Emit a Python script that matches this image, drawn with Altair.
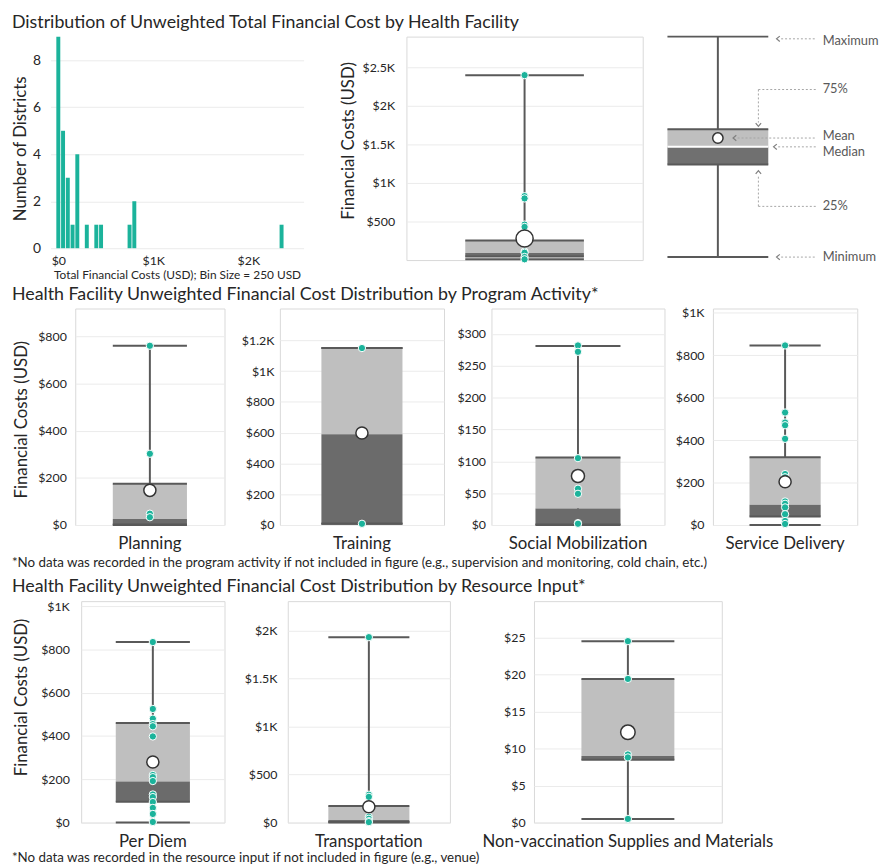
import altair as alt
import pandas as pd

# ---------------- texts ----------------
TITLES = [
    "Distribution of Unweighted Total Financial Cost by Health Facility",
    "Health Facility Unweighted Financial Cost Distribution by Program Activity*",
    "Health Facility Unweighted Financial Cost Distribution by Resource Input*",
]
FOOTNOTES = [
    "*No data was recorded in the program activity if not included in figure (e.g., supervision and monitoring, cold chain, etc.)",
    "*No data was recorded in the resource input if not included in figure (e.g., venue)",
]
Y_TITLE = "Financial Costs (USD)"
HIST_Y_TITLE = "Number of Districts"
HIST_X_TITLE = "Total Financial Costs (USD); Bin Size = 250 USD"

# ---------------- histogram ----------------
HIST_COST = [0, 50, 100, 150, 200, 300, 400, 450, 750, 800, 2350]
HIST_COUNT = [9, 5, 3, 1, 4, 1, 1, 1, 1, 2, 1]
HIST_X_TICKS = [0, 1000, 2000]
HIST_Y_TICKS = [0, 2, 4, 6, 8]

# ---------------- total cost box ----------------
TOTAL_CAT = "Total"
TOTAL_STATS = {"min": 10, "q1": 45, "med": 90, "q3": 255, "max": 2400, "mean": 280}
TOTAL_POINTS = [2400, 830, 800, 460, 430, 110, 95, 40, 10]
TOTAL_TICKS = [500, 1000, 1500, 2000, 2500]

# ---------------- program activity ----------------
PROG_CATS = ["Planning", "Training", "Social Mobilization", "Service Delivery"]
PROG_MIN = [0, 8, 0, 0]
PROG_Q1 = [2, 8, 1, 40]
PROG_MED = [25, 590, 26, 96]
PROG_Q3 = [175, 1150, 106, 319]
PROG_MAX = [760, 1150, 281, 846]
PROG_MEAN = [147, 598, 77, 204]
PROG_POINTS = [
    [760, 302, 48, 33],
    [1150, 8],
    [282, 272, 105, 57, 49, 3, 2],
    [846, 530, 483, 470, 406, 240, 225, 111, 100, 83, 51, 19, 5],
]
PROG_TICKS = [
    [0, 200, 400, 600, 800],
    [0, 200, 400, 600, 800, 1000, 1200],
    [0, 50, 100, 150, 200, 250, 300],
    [0, 200, 400, 600, 800, 1000],
]

# ---------------- resource input ----------------
RES_CATS = ["Per Diem", "Transportation", "Non-vaccination Supplies and Materials"]
RES_MIN = [0, 2, 0.5]
RES_Q1 = [96, 7, 8.5]
RES_MED = [190, 28, 9.0]
RES_Q3 = [460, 172, 19.4]
RES_MAX = [834, 1930, 24.5]
RES_MEAN = [280, 165, 12.2]
RES_POINTS = [
    [834, 525, 480, 455, 445, 398, 220, 210, 192, 130, 118, 95, 68, 40, 3],
    [1930, 290, 268, 60, 40, 15, 5],
    [24.5, 19.4, 9.2, 8.8, 0.5],
]
RES_TICKS = [
    [0, 200, 400, 600, 800, 1000],
    [0, 500, 1000, 1500, 2000],
    [0, 5, 10, 15, 20, 25],
]

# ---------------- schematic legend ----------------
LEG_LABELS = ["Maximum", "75%", "Mean", "Median", "25%", "Minimum"]
LEG_LABEL_Y = [98, 76, 55, 47.5, 23, 0]
LEG_STATS = {"min": 0, "q1": 42, "med": 50, "mean": 54, "q3": 58, "max": 100}

# ---------------- style ----------------
FONT = "Lato"
TEAL = "#1bb39b"
LIGHT = "#bfbfbf"
DARK = "#6b6b6b"
LINE = "#595959"
GRID = "#ebebeb"
FRAME = "#d9d9d9"
TXT = "#262626"
TITLE_SIZE = 18
NOTE_SIZE = 13.5
CAT_SIZE = 17
YT_SIZE = 17
LABEL_EXPR = ("datum.value >= 1000 ? '$' + format(datum.value / 1000, '~g') + 'K' "
              ": '$' + format(datum.value, '~g')")


def no_frame():
    return alt.ViewBackground(stroke="transparent")


def spacer(w, h):
    return (alt.Chart(pd.DataFrame({"s": [0]}))
            .mark_point(opacity=0)
            .encode(x=alt.value(0), y=alt.value(0))
            .properties(width=w, height=h, view=no_frame()))


def text_layer(text, y, size, color=TXT):
    return (alt.Chart(pd.DataFrame({"t": [text]}))
            .mark_text(align="left", baseline="middle", font=FONT, fontSize=size, color=color)
            .encode(x=alt.value(0), y=alt.value(y), text="t:N"))


def text_block(layers, h, w=800):
    return alt.layer(*layers).properties(width=w, height=h, view=no_frame())


def box_panel(cat, stats, points, width, height, ymax, ticks, boxw, mean_size,
              show_label=True, label_pad=10, ylab_pad=9, ylab_size=12.5,
              ytitle=None, title_x=0, title_y=0):
    sdf = pd.DataFrame([dict(cat=cat, **stats)])
    pdf = pd.DataFrame({"cat": [cat] * len(points), "v": points})
    xs = alt.Scale(type="band", domain=[cat], paddingInner=0, paddingOuter=0)
    ys = alt.Scale(domain=[0, ymax], nice=False, zero=False)
    if show_label:
        xaxis = alt.Axis(title=None, ticks=False, domain=False, grid=False, labelAngle=0,
                         labelFont=FONT, labelFontSize=CAT_SIZE, labelColor=TXT,
                         labelPadding=label_pad, labelLimit=500)
    else:
        xaxis = None
    ykw = dict(values=ticks, labelExpr=LABEL_EXPR, grid=True, gridColor=GRID,
               domain=False, ticks=False, tickSize=0, labelPadding=ylab_pad,
               labelFont=FONT, labelFontSize=ylab_size, labelColor=TXT)
    if ytitle:
        yaxis = alt.Axis(title=ytitle, titleFont=FONT, titleFontSize=YT_SIZE,
                         titleFontWeight="normal", titleColor=TXT, titleAngle=270,
                         titleAlign="center", titleBaseline="middle",
                         titleX=title_x, titleY=title_y, **ykw)
    else:
        yaxis = alt.Axis(title=None, **ykw)

    # identical axis definitions on every layer so the merged axis is kept
    def X():
        return alt.X("cat:N", scale=xs, axis=xaxis)

    def Y(f):
        return alt.Y(f + ":Q", scale=ys, axis=yaxis)

    base = alt.Chart(sdf)
    layers = [
        base.mark_rule(color=LINE, strokeWidth=2).encode(x=X(), y=Y("min"), y2=alt.Y2("max")),
        base.mark_bar(size=boxw, color=LIGHT).encode(x=X(), y=Y("med"), y2=alt.Y2("q3")),
        base.mark_bar(size=boxw, color=DARK).encode(x=X(), y=Y("q1"), y2=alt.Y2("med")),
    ]
    for f in ["q3", "q1", "max", "min"]:
        layers.append(base.mark_tick(size=boxw, thickness=2, color=LINE, opacity=1)
                      .encode(x=X(), y=Y(f)))
    layers.append(alt.Chart(pdf).mark_circle(size=55, color=TEAL, opacity=1,
                                             stroke="white", strokeWidth=1)
                  .encode(x=X(), y=Y("v")))
    layers.append(base.mark_point(shape="circle", filled=True, fill="white", stroke="#333333",
                                  strokeWidth=1.5, size=mean_size, opacity=1)
                  .encode(x=X(), y=Y("mean")))
    return alt.layer(*layers).properties(width=width, height=height)


# ---------------- row 1 ----------------
R1H = 226
hist_df = pd.DataFrame({"cost": HIST_COST, "n": HIST_COUNT})
hist = alt.Chart(hist_df).mark_bar(size=4, color=TEAL, orient="vertical").encode(
    x=alt.X("cost:Q", scale=alt.Scale(domain=[-30, 2530], nice=False, zero=False),
            axis=alt.Axis(values=HIST_X_TICKS, labelExpr=LABEL_EXPR, grid=False, domain=False,
                          ticks=False, tickSize=0, offset=-12, labelPadding=7, labelFont=FONT,
                          labelFontSize=12.5, labelColor=TXT, title=HIST_X_TITLE,
                          titleFont=FONT, titleFontSize=12, titleFontWeight="normal",
                          titleColor=TXT, titlePadding=2)),
    y=alt.Y("n:Q", scale=alt.Scale(domain=[-0.505, 9.01], nice=False, zero=False),
            axis=alt.Axis(values=HIST_Y_TICKS, grid=True, gridColor=GRID, domain=False,
                          ticks=False, tickSize=0, labelPadding=10, labelFont=FONT,
                          labelFontSize=14, labelColor=TXT, title=HIST_Y_TITLE,
                          titleFont=FONT, titleFontSize=YT_SIZE, titleFontWeight="normal",
                          titleColor=TXT, titleAngle=270, titleAlign="center",
                          titleBaseline="middle", titleX=-30, titleY=113)),
).properties(width=256, height=R1H, view=no_frame())

total_box = box_panel(TOTAL_CAT, TOTAL_STATS, TOTAL_POINTS, 239, R1H, 2900, TOTAL_TICKS,
                      120, 300, show_label=False, ylab_pad=12, ylab_size=12.5,
                      ytitle=Y_TITLE, title_x=-59, title_y=105)

# schematic legend
lxs = alt.Scale(domain=[0, 226], nice=False, zero=False)
lys = alt.Scale(domain=[-1.35, 100], nice=False, zero=False)
BX0, BX1, BXC = 25, 127, 76
ls = LEG_STATS


def LX(f):
    return alt.X(f + ":Q", scale=lxs, axis=None)


def LY(f):
    return alt.Y(f + ":Q", scale=lys, axis=None)


rect_df = pd.DataFrame({"x0": [BX0, BX0], "x1": [BX1, BX1],
                        "y0": [ls["med"], ls["q1"]], "y1": [ls["q3"], ls["med"]],
                        "c": [LIGHT, "#707070"]})
hline_df = pd.DataFrame({"x0": [BX0] * 4, "x1": [BX1] * 4,
                         "y": [ls["max"], ls["q3"], ls["q1"], ls["min"]]})
conn_df = pd.DataFrame({"x0": [140, 117, 96, 137, 117, 140], "x1": [176] * 6,
                        "y": [99, 76, 54, 50, 23, 0]})
vconn_df = pd.DataFrame({"x": [117, 117], "y0": [76, 23], "y1": [61, 37]})
chev_l = pd.DataFrame({"x": [137, 137, 93, 134], "y": [99, 0, 54, 50]})
lab_df = pd.DataFrame({"lab": LEG_LABELS, "y": LEG_LABEL_Y})

legend = alt.layer(
    alt.Chart(pd.DataFrame({"x": [BXC], "y0": [ls["min"]], "y1": [ls["max"]]}))
    .mark_rule(color=LINE, strokeWidth=2).encode(x=LX("x"), y=LY("y0"), y2=alt.Y2("y1")),
    alt.Chart(rect_df).mark_rect().encode(x=LX("x0"), x2=alt.X2("x1"), y=LY("y0"),
                                          y2=alt.Y2("y1"),
                                          color=alt.Color("c:N", scale=None)),
    alt.Chart(hline_df).mark_rule(color=LINE, strokeWidth=2)
    .encode(x=LX("x0"), x2=alt.X2("x1"), y=LY("y")),
    alt.Chart(pd.DataFrame({"x0": [BX0], "x1": [BX1], "y": [ls["med"]]}))
    .mark_rule(color="white", strokeWidth=2).encode(x=LX("x0"), x2=alt.X2("x1"), y=LY("y")),
    alt.Chart(pd.DataFrame({"x": [BXC], "y": [ls["mean"]]}))
    .mark_point(shape="circle", filled=True, fill="white", stroke="#333333", strokeWidth=1.5,
                size=110, opacity=1).encode(x=LX("x"), y=LY("y")),
    alt.Chart(conn_df).mark_rule(color="#a6a6a6", strokeWidth=1, strokeDash=[2, 2])
    .encode(x=LX("x0"), x2=alt.X2("x1"), y=LY("y")),
    alt.Chart(vconn_df).mark_rule(color="#a6a6a6", strokeWidth=1, strokeDash=[2, 2])
    .encode(x=LX("x"), y=LY("y0"), y2=alt.Y2("y1")),
    alt.Chart(chev_l).mark_point(shape="M0.6,-1L-0.6,0L0.6,1", filled=False, color="#7f7f7f",
                                 strokeWidth=1.2, size=30, opacity=1)
    .encode(x=LX("x"), y=LY("y")),
    alt.Chart(pd.DataFrame({"x": [117], "y": [60]}))
    .mark_point(shape="M-1,-0.6L0,0.6L1,-0.6", filled=False, color="#7f7f7f",
                strokeWidth=1.2, size=30, opacity=1).encode(x=LX("x"), y=LY("y")),
    alt.Chart(pd.DataFrame({"x": [117], "y": [38.5]}))
    .mark_point(shape="M-1,0.6L0,-0.6L1,0.6", filled=False, color="#7f7f7f",
                strokeWidth=1.2, size=30, opacity=1).encode(x=LX("x"), y=LY("y")),
    alt.Chart(lab_df).mark_text(align="left", baseline="middle", font=FONT, fontSize=13,
                                color=LINE)
    .encode(x=alt.value(182), y=LY("y"), text="lab:N"),
).properties(width=226, height=R1H, view=no_frame())


def stats_of(i, mn, q1, md, q3, mx, me):
    return {"min": mn[i], "q1": q1[i], "med": md[i], "q3": q3[i], "max": mx[i], "mean": me[i]}


# ---------------- row 2 ----------------
R2H = 219
prog_dims = [  # width, ymax, boxw, mean size, y label pad
    (151, 918, 75, 150, 9),
    (166, 1407, 82, 150, 6),
    (175, 340, 86, 175, 6),
    (146, 1020, 72, 150, 9),
]
prog_panels = []
for i, cat in enumerate(PROG_CATS):
    w, ymax, bw, ms, lp = prog_dims[i]
    kw = {}
    if i == 0:
        kw = dict(ytitle=Y_TITLE, title_x=-54, title_y=112)
    prog_panels.append(box_panel(cat, stats_of(i, PROG_MIN, PROG_Q1, PROG_MED, PROG_Q3,
                                                PROG_MAX, PROG_MEAN),
                                 PROG_POINTS[i], w, R2H, ymax, PROG_TICKS[i], bw, ms,
                                 label_pad=11, ylab_pad=lp, **kw))

# ---------------- row 3 ----------------
R3H = 224
res_dims = [
    (145, 1023, 75, 150, 12),
    (164, 2305, 82, 150, 11),
    (190, 29.9, 94, 215, 9),
]
res_panels = []
for i, cat in enumerate(RES_CATS):
    w, ymax, bw, ms, lp = res_dims[i]
    kw = {}
    if i == 0:
        kw = dict(ytitle=Y_TITLE, title_x=-60, title_y=97)
    res_panels.append(box_panel(cat, stats_of(i, RES_MIN, RES_Q1, RES_MED, RES_Q3,
                                               RES_MAX, RES_MEAN),
                                RES_POINTS[i], w, R3H, ymax, RES_TICKS[i], bw, ms,
                                label_pad=11, ylab_pad=lp, **kw))

ind = dict(x="independent", y="independent")
row1 = alt.hconcat(spacer(39, R1H), hist, spacer(104, R1H), total_box, legend,
                   spacer(1, 250), spacing=0, bounds="flush").resolve_scale(**ind)
row2 = alt.hconcat(spacer(64, R2H), prog_panels[0], spacer(56, R2H), prog_panels[1],
                   spacer(48, R2H), prog_panels[2], spacer(49, R2H), prog_panels[3],
                   spacer(1, 248), spacing=0, bounds="flush").resolve_scale(**ind)
row3 = alt.hconcat(spacer(70, R3H), res_panels[0], spacer(64, R3H), res_panels[1],
                   spacer(85, R3H), res_panels[2], spacer(1, 251),
                   spacing=0, bounds="flush").resolve_scale(**ind)

t1 = text_block([text_layer(TITLES[0], 9, TITLE_SIZE)], 12)
mid_a = text_block([text_layer(TITLES[1], 9, TITLE_SIZE)], 16)
mid_b = text_block([text_layer(FOOTNOTES[0], 7, NOTE_SIZE),
                    text_layer(TITLES[2], 32, TITLE_SIZE)], 41)
bottom = text_block([text_layer(FOOTNOTES[1], 7, NOTE_SIZE)], 14)

chart = (alt.vconcat(t1, row1, mid_a, row2, mid_b, row3, bottom, spacing=0)
         .resolve_scale(**ind)
         .properties(padding=0)
         .configure(font=FONT)
         .configure_view(stroke=FRAME, strokeWidth=1))

chart.save("out.html", embed_options={"renderer": "svg", "actions": False})
